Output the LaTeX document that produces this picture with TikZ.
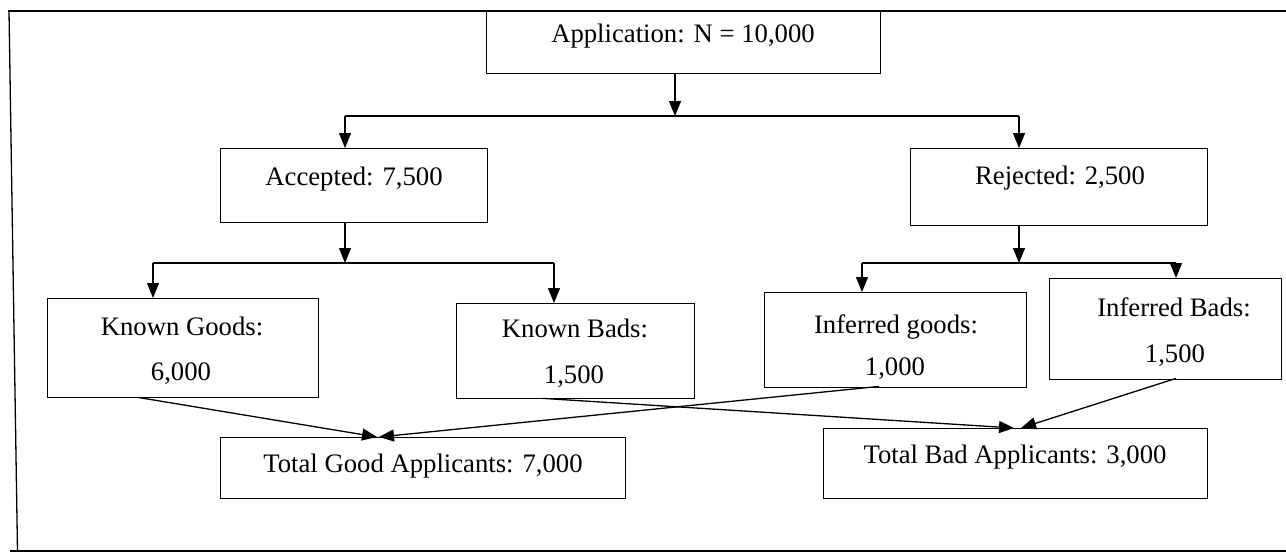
\documentclass[tikz,border=0pt]{standalone}
\usepackage{fontspec}
\setmainfont{Liberation Serif}
\usetikzlibrary{arrows.meta}
\begin{document}
\begin{tikzpicture}[x=1pt,y=-1pt,
  box/.style={draw, line width=1.4pt, inner sep=0pt, anchor=north west},
  txt/.style={inner sep=0pt, anchor=base, font=\fontsize{26.7}{32}\selectfont},
  ln/.style={line width=1.3pt},
  arr/.style={line width=1.3pt, -{Triangle[length=15pt,width=12pt]}},
]
\useasboundingbox (0,0) rectangle (1286,552);

% open frame around the chart
\draw[line width=2pt] (8,11) -- (1286,11);
\draw[line width=1.3pt] (9,11) -- (17.5,551);
\draw[line width=1.3pt] (10,551) -- (1286,551);

% boxes
\node[box, minimum width=394pt, minimum height=62pt] (app) at (486,11) {};
\node[box, minimum width=267pt, minimum height=74pt] (acc) at (220,148) {};
\node[box, minimum width=297pt, minimum height=77pt] (rej) at (910,148) {};
\node[box, minimum width=271pt, minimum height=99pt] (kg) at (47,298) {};
\node[box, minimum width=238pt, minimum height=95pt] (kb) at (456,303) {};
\node[box, minimum width=262pt, minimum height=95pt] (ig) at (764,292) {};
\node[box, minimum width=232pt, minimum height=101pt] (ib) at (1049,278) {};
\node[box, minimum width=405pt, minimum height=61pt] (tg) at (220,437) {};
\node[box, minimum width=384pt, minimum height=70pt] (tb) at (823,428) {};

% labels
\node[txt] (appT) at (683,42) {Application: N = 10,000};
\node[txt] (accT) at (354,185) {Accepted: 7,500};
\node[txt] (rejT) at (1060,184) {Rejected: 2,500};
\node[txt] (kgA) at (182,335) {Known Goods:};
\node[txt] (kgB) at (181,380) {6,000};
\node[txt] (kbA) at (575,337) {Known Bads:};
\node[txt] (kbB) at (574,383) {1,500};
\node[txt] (igA) at (896,333) {Inferred goods:};
\node[txt] (igB) at (895,375) {1,000};
\node[txt] (ibA) at (1174,316) {Inferred Bads:};
\node[txt] (ibB) at (1175,362) {1,500};
\node[txt] (tgT) at (423,472) {Total Good Applicants: 7,000};
\node[txt] (tbT) at (1015,463) {Total Bad Applicants: 3,000};

% junction points of the split connectors
\coordinate (j0) at (675,116);
\coordinate (jL) at (345,116);
\coordinate (jR) at (1019,116);
\coordinate (a0) at (345,263);
\coordinate (aL) at (153,263);
\coordinate (aR) at (554,263);
\coordinate (r0) at (1019,263);
\coordinate (rL) at (862,263);
\coordinate (rR) at (1176,263);

% application splits into accepted / rejected
\draw[arr] (app.south -| j0) -- (j0);
\draw[ln] (jL) -- (jR);
\draw[arr] (jL) -- (jL |- acc.north);
\draw[arr] (jR) -- (jR |- rej.north);

% accepted splits into known goods / bads
\draw[arr] (acc.south -| a0) -- (a0);
\draw[ln] (aL) -- (aR);
\draw[arr] (aL) -- (aL |- kg.north);
\draw[arr] (aR) -- (aR |- kb.north);

% rejected splits into inferred goods / bads
\draw[arr] (rej.south -| r0) -- (r0);
\draw[ln] (rL) -- (rR);
\draw[arr] (rL) -- (rL |- ig.north);
\draw[arr] (rR) -- (rR |- ib.north);

% totals
\draw[arr] ([xshift=91pt,yshift=1pt]kg.south west) -- ([xshift=157pt]tg.north west);
\draw[arr] ([xshift=115pt,yshift=2pt]ig.south west) -- ([xshift=159pt]tg.north west);
\draw[arr] ([xshift=87pt,yshift=1pt]kb.south west) -- ([xshift=191pt]tb.north west);
\draw[arr] ([xshift=127pt,yshift=2pt]ib.south west) -- ([xshift=198pt]tb.north west);
\end{tikzpicture}
\end{document}
